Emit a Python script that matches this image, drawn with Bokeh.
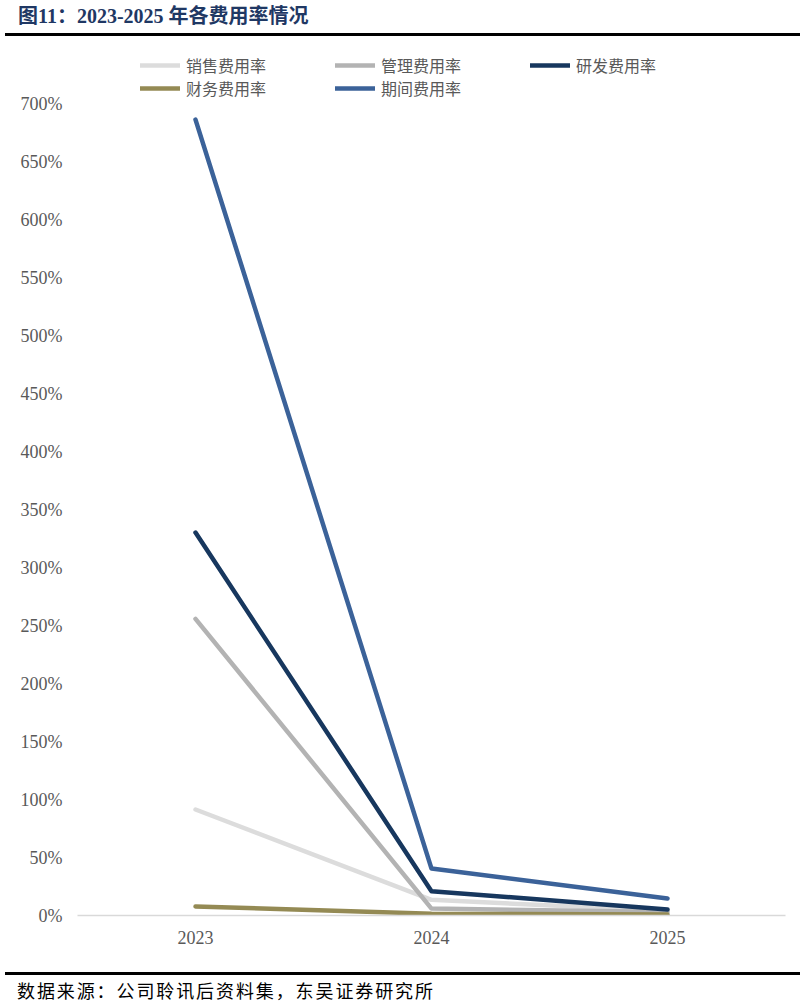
from bokeh.plotting import figure
from bokeh.models import Div, Range1d, FixedTicker, PrintfTickFormatter, Legend, LegendItem
from bokeh.layouts import column
from bokeh.embed import file_html
from bokeh.resources import INLINE

years = ["2023", "2024", "2025"]
series_names = ["销售费用率", "管理费用率", "研发费用率", "财务费用率", "期间费用率"]
sales = [91.5, 13.5, 4.0]
admin = [256.0, 6.0, 3.0]
rnd = [330.5, 21.0, 5.2]
fin = [7.8, 1.5, 0.8]
period = [687.0, 40.5, 14.7]
series_values = [sales, admin, rnd, fin, period]
colors = ["#DCDCDC", "#B3B3B3", "#17375E", "#948A54", "#3B6299"]
y_ticks = list(range(0, 701, 50))

title_html = ('<div style="position:relative;width:805px;height:36px;">'
              '<div style="position:absolute;left:18px;top:5px;'
              'font-family:\'Liberation Serif\',\'Noto Sans CJK SC\';font-weight:bold;font-size:20px;'
              'color:#1F3864;line-height:22px;white-space:nowrap;">图11：2023-2025 年各费用率情况</div>'
              '<div style="position:absolute;left:5px;top:33px;width:795px;height:3px;background:#000;"></div>'
              '</div>')
title = Div(text=title_html, width=805, height=36, margin=0)

p = figure(x_range=years, y_range=Range1d(0, 746.6), width=800, height=932,
           output_backend="svg", toolbar_location=None, margin=0,
           min_border_left=77, min_border_right=15, min_border_top=14, min_border_bottom=53)
p.outline_line_color = None
p.grid.grid_line_color = None
p.x_range.range_padding = 0

renderers = []
for vals, c in zip(series_values, colors):
    r = p.line(x=years, y=vals, line_color=c, line_width=4.5, line_cap="round", line_join="round")
    renderers.append(r)

p.yaxis.ticker = FixedTicker(ticks=y_ticks)
p.yaxis.formatter = PrintfTickFormatter(format="%d%%")
p.yaxis.axis_line_color = None
p.yaxis.major_tick_line_color = None
p.yaxis.minor_tick_line_color = None
p.yaxis.major_label_standoff = 9
p.yaxis.major_label_text_font = "Liberation Serif"
p.yaxis.major_label_text_font_size = "18px"
p.yaxis.major_label_text_color = "#595959"

p.xaxis.axis_line_color = "#D9D9D9"
p.xaxis.axis_line_width = 1.5
p.xaxis.major_tick_line_color = None
p.xaxis.minor_tick_line_color = None
p.xaxis.major_label_standoff = 9
p.xaxis.major_label_text_font = "Liberation Serif"
p.xaxis.major_label_text_font_size = "18px"
p.xaxis.major_label_text_color = "#595959"

items = [LegendItem(label=n, renderers=[r]) for n, r in zip(series_names, renderers)]
legend_style = dict(orientation="horizontal", padding=0, margin=0, spacing=0,
                    border_line_color=None, background_fill_alpha=0,
                    glyph_width=40, glyph_height=18, label_height=18, label_width=149,
                    label_standoff=6, label_text_font="Noto Sans CJK SC",
                    label_text_font_size="16px", label_text_color="#595959")
legend1 = Legend(items=items[:3], location=(63, 838), **legend_style)
legend2 = Legend(items=items[3:], location=(63, 815), **legend_style)
p.add_layout(legend1)
p.add_layout(legend2)

footer_html = ('<div style="position:relative;width:805px;height:38px;">'
               '<div style="position:absolute;left:5px;top:4px;width:795px;height:3px;background:#000;"></div>'
               '<div style="position:absolute;left:17px;top:11px;font-family:\'Noto Sans CJK SC\';'
               'font-size:18px;letter-spacing:1.9px;color:#000;line-height:22px;white-space:nowrap;">'
               '数据来源：公司聆讯后资料集，东吴证券研究所</div></div>')
footer = Div(text=footer_html, width=805, height=38, margin=0)

layout = column(title, p, footer)
open("out.html", "w").write(file_html(layout, INLINE))
